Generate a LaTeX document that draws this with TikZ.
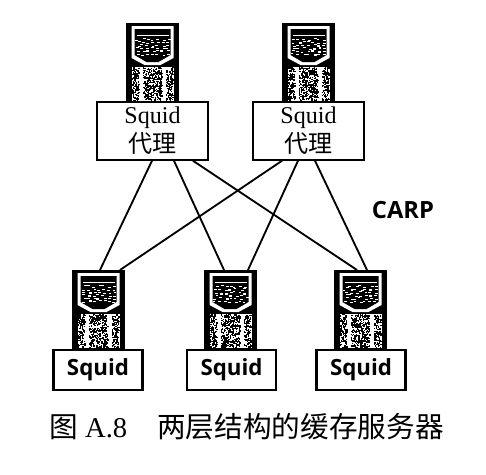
\documentclass[tikz,border=0pt]{standalone}
\usepackage{fontspec}
\setmainfont{Liberation Serif}
\setsansfont{Open Sans}
\newfontfamily\cjk{Noto Sans CJK SC}
\usetikzlibrary{shapes, arrows}

\tikzset{
	towerbody/.style={draw=black, fill=black, minimum width=1.04cm, minimum height=1.56cm, inner sep=0pt, anchor=north},
	proxybox/.style={draw, line width=1pt, fill=white, minimum width=2.22cm, minimum height=1.16cm, inner sep=0pt, align=center, anchor=north, font=\fontsize{13.7}{16.5}\selectfont},
	cachebox/.style={draw, line width=1.3pt, fill=white, minimum width=1.78cm, minimum height=.8cm, inner sep=0pt, anchor=north, font=\sffamily\bfseries\fontsize{12.7}{15}\selectfont},
	link/.style={line width=1.05pt},
	towerface/.pic={
		% screen
		\fill[white] (-21,3) -- (21,3) -- (21,35) -- (8,42) -- (-8,42) -- (-21,35) -- cycle;
		\fill[black] (-18,6) -- (18,6) -- (18,32) -- (6,39) -- (-6,39) -- (-18,32) -- cycle;
		\fill[white] (-16,12) rectangle (16,13);
		\foreach \row in {16,19,...,31}
			\foreach \col in {-16,-11,...,14}
				\fill[white] (\col+rand*2,\row+rand) rectangle ++(2.8,1.1);
		% speckled columns
		\fill[white] (-21,44) rectangle (21,78);
		\foreach \xa/\wid/\num in {-21/7/130,-10/19/340,13/7/130}
			\foreach \n in {1,...,\num}
				\fill[black] (\xa+\wid*rnd,44+33*rnd) rectangle ++(1.3,1.3);
	}
}

\begin{document}
\begin{tikzpicture}[x=.02cm, y=-.02cm]
	\useasboundingbox (0,0) rectangle (486,474);
	\pgfmathsetseed{8}

	% proxies
	\node (towerA) [towerbody] at (152.5,23) {};
	\pic at (152.5,23) {towerface};
	\node (proxyA) [proxybox] at (152.5,101) {Squid\\{\cjk 代理}};

	\node (towerB) [towerbody] at (308.5,23) {};
	\pic at (308.5,23) {towerface};
	\node (proxyB) [proxybox] at (308.5,101) {Squid\\{\cjk 代理}};

	% caches
	\node (towerC) [towerbody] at (98.5,270) {};
	\pic at (98.5,270) {towerface};
	\node (cacheA) [cachebox] at (98,349) {Squid};

	\node (towerD) [towerbody] at (230.5,270) {};
	\pic at (230.5,270) {towerface};
	\node (cacheB) [cachebox] at (231.5,349) {Squid};

	\node (towerE) [towerbody] at (360.5,270) {};
	\pic at (360.5,270) {towerface};
	\node (cacheC) [cachebox] at (361,349) {Squid};

	\draw[link] ([xshift=-.01cm]proxyA.south) -- ([xshift=.03cm]towerC.north);
	\draw[link] ([xshift=.43cm]proxyA.south) -- ([xshift=-.13cm]towerD.north);
	\draw[link] ([xshift=.81cm]proxyA.south) -- ([xshift=-.07cm]towerE.north);
	\draw[link] ([xshift=-.53cm]proxyB.south) -- ([xshift=.43cm]towerC.north);
	\draw[link] ([xshift=-.21cm]proxyB.south) -- ([xshift=.35cm]towerD.north);
	\draw[link] ([xshift=.13cm]proxyB.south) -- ([xshift=.13cm]towerE.north);

	\node (carp) at (403,210) {\sffamily\bfseries\fontsize{13.5}{16}\selectfont CARP};
	\node (caption) at (246.5,427) {\fontsize{16.3}{19}\selectfont{\cjk 图} A.8\hspace{1.05em}{\cjk 两层结构的缓存服务器}};
\end{tikzpicture}
\end{document}
